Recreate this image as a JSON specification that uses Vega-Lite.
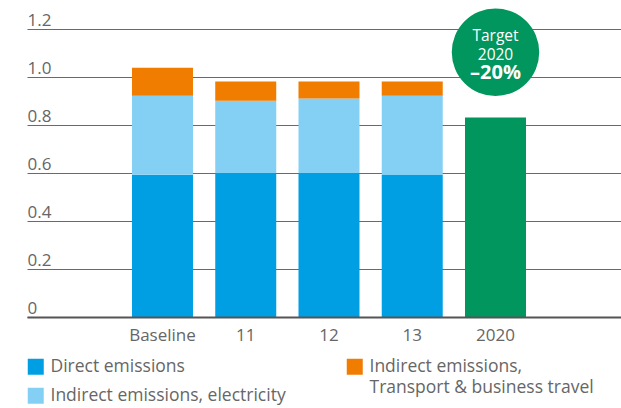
{
  "$schema": "https://vega.github.io/schema/vega-lite/v6.json",
  "width": 594,
  "height": 288,
  "autosize": {"type": "none"},
  "padding": {"left": 27, "top": 29, "right": 0, "bottom": 91},
  "background": "white",
  "config": {
    "font": "Open Sans",
    "view": {"stroke": null},
    "style": {"guide-label": {"lineHeight": 21}}
  },
  "datasets": {
    "bars": [
      {"period": "Baseline", "series": "Direct emissions", "k": 1, "value": 0.593},
      {"period": "Baseline", "series": "Indirect emissions, electricity", "k": 2, "value": 0.329},
      {"period": "Baseline", "series": "Indirect emissions, Transport & business travel", "k": 3, "value": 0.117},
      {"period": "11", "series": "Direct emissions", "k": 1, "value": 0.600},
      {"period": "11", "series": "Indirect emissions, electricity", "k": 2, "value": 0.301},
      {"period": "11", "series": "Indirect emissions, Transport & business travel", "k": 3, "value": 0.080},
      {"period": "12", "series": "Direct emissions", "k": 1, "value": 0.600},
      {"period": "12", "series": "Indirect emissions, electricity", "k": 2, "value": 0.310},
      {"period": "12", "series": "Indirect emissions, Transport & business travel", "k": 3, "value": 0.071},
      {"period": "13", "series": "Direct emissions", "k": 1, "value": 0.592},
      {"period": "13", "series": "Indirect emissions, electricity", "k": 2, "value": 0.330},
      {"period": "13", "series": "Indirect emissions, Transport & business travel", "k": 3, "value": 0.059},
      {"period": "2020", "series": "Target", "k": 1, "value": 0.831}
    ],
    "target": [
      {"period": "2020", "y": 1.103, "line1": "Target", "line2": "2020", "pct": "–20%"}
    ]
  },
  "layer": [
    {
      "data": {"name": "bars"},
      "mark": {"type": "bar"},
      "encoding": {
        "x": {
          "field": "period",
          "type": "nominal",
          "scale": {"domain": [" ", "Baseline", "11", "12", "13", "2020", "  "], "paddingInner": 0.2673, "paddingOuter": 0.2012, "align": 0.649},
          "axis": {
            "title": null,
            "domain": true,
            "domainColor": "#555555",
            "domainWidth": 2,
            "ticks": false,
            "tickSize": 0,
            "labelPadding": 10,
            "labelAngle": 0,
            "labelFont": "Open Sans",
            "labelFontSize": 17,
            "labelColor": "#666666",
            "grid": false,
            "zindex": 1
          }
        },
        "y": {
          "field": "value",
          "type": "quantitative",
          "stack": "zero",
          "scale": {"domain": [0, 1.2], "nice": false},
          "axis": {
            "title": null,
            "values": [0, 0.2, 0.4, 0.6, 0.8, 1.0, 1.2],
            "domain": false,
            "ticks": false,
            "tickSize": 0,
            "grid": true,
            "gridColor": "#6a6a6a",
            "gridWidth": 1,
            "labelAlign": "left",
            "labelBaseline": "alphabetic",
            "labelPadding": 0,
            "labelOffset": -4,
            "labelFont": "Open Sans",
            "labelFontSize": 17,
            "labelColor": "#666666",
            "labelExpr": "datum.value == 0 ? '0' : format(datum.value, '.1f')"
          }
        },
        "color": {
          "field": "series",
          "type": "nominal",
          "scale": {
            "domain": ["Direct emissions", "Indirect emissions, electricity", "Indirect emissions, Transport & business travel", "Target"],
            "range": ["#009FE3", "#84D0F5", "#F07D00", "#00965E"]
          },
          "legend": {
            "title": null,
            "orient": "none",
            "legendX": 0,
            "legendY": 329,
            "padding": 0,
            "columns": 2,
            "gridAlign": "none",
            "columnPadding": 60,
            "rowPadding": -11,
            "symbolType": "square",
            "symbolSize": 256,
            "symbolStrokeWidth": 0,
            "labelOffset": 6,
            "labelFont": "Open Sans",
            "labelFontSize": 17.5,
            "labelColor": "#666666",
            "labelLimit": 400,
            "values": ["Direct emissions", "Indirect emissions, electricity", "Indirect emissions, Transport & business travel"],
            "labelExpr": "datum.label == 'Indirect emissions, Transport & business travel' ? ['Indirect emissions,', 'Transport & business travel'] : datum.label"
          }
        },
        "order": {"field": "k", "type": "quantitative"}
      }
    },
    {
      "data": {"name": "target"},
      "mark": {"type": "point", "shape": "circle", "filled": true, "size": 7650, "color": "#00965E", "opacity": 1},
      "encoding": {
        "x": {"field": "period", "type": "nominal"},
        "y": {"field": "y", "type": "quantitative"}
      }
    },
    {
      "data": {"name": "target"},
      "mark": {"type": "text", "color": "white", "font": "Open Sans", "fontSize": 15.5, "baseline": "middle", "align": "center", "dy": -16.5},
      "encoding": {
        "x": {"field": "period", "type": "nominal"},
        "y": {"field": "y", "type": "quantitative"},
        "text": {"field": "line1"}
      }
    },
    {
      "data": {"name": "target"},
      "mark": {"type": "text", "color": "white", "font": "Open Sans", "fontSize": 15.5, "baseline": "middle", "align": "center", "dy": 2.5},
      "encoding": {
        "x": {"field": "period", "type": "nominal"},
        "y": {"field": "y", "type": "quantitative"},
        "text": {"field": "line2"}
      }
    },
    {
      "data": {"name": "target"},
      "mark": {"type": "text", "color": "white", "font": "Open Sans", "fontSize": 20, "fontWeight": "bold", "baseline": "middle", "align": "center", "dy": 20.5},
      "encoding": {
        "x": {"field": "period", "type": "nominal"},
        "y": {"field": "y", "type": "quantitative"},
        "text": {"field": "pct"}
      }
    }
  ]
}
